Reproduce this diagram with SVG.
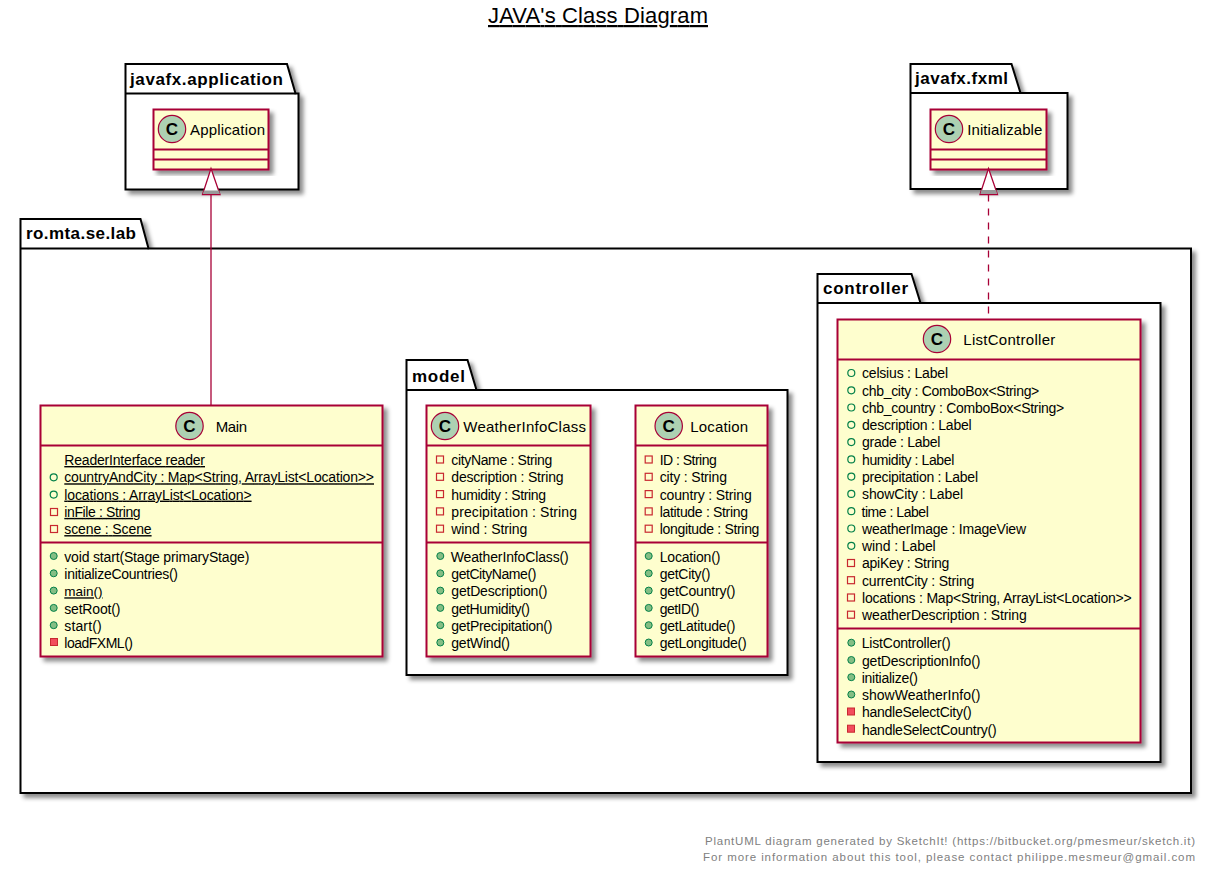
<svg xmlns="http://www.w3.org/2000/svg" width="1210" height="869" viewBox="0 0 1210 869">
<style>
text{font-family:"Liberation Sans",Arial,sans-serif;fill:#000}
.title{font-size:22px;text-decoration:underline}
.pkg{fill:#fff;stroke:#000;stroke-width:2}
.pl{font-size:17px;font-weight:bold}
.cls{fill:#FEFECE;stroke:#A80036;stroke-width:2}
.sep{stroke:#A80036;stroke-width:2;fill:none}
.spot{fill:#ADD1B2;stroke:#A80036;stroke-width:1.2}
.c{font-size:17px;font-weight:bold;text-anchor:middle}
.n{font-size:15px}
.m{font-size:14px}
.u{text-decoration:underline}
.po{fill:none;stroke:#038048;stroke-width:1.2}
.pf{fill:#84BE84;stroke:#038048;stroke-width:1}
.so{fill:none;stroke:#C82930;stroke-width:1.2}
.sf{fill:#F24D5C;stroke:#C82930;stroke-width:1}
.link{fill:none;stroke:#A80036;stroke-width:1.3}
.head{fill:#fff;stroke:#A80036;stroke-width:1.3}
.foot{font-size:11.5px;fill:#808080;text-anchor:end}
</style>
<defs>
<filter id="sh" x="-10%" y="-10%" width="120%" height="120%"><feDropShadow dx="4" dy="4" stdDeviation="2" flood-color="#000" flood-opacity="0.45"/></filter>
</defs>
<text class="title" x="488" y="23" textLength="220">JAVA's Class Diagram</text>

<g id="pkg-javafx-application">
<path class="pkg" filter="url(#sh)" d="M125.5 93.5V64H287L295.5 93.5H298.5V189.5H125.5Z"/>
<path class="pkg" d="M125.5 93.5H295.5" fill="none"/>
<text class="pl" x="130" y="85" textLength="153">javafx.application</text>
</g>
<g id="pkg-javafx-fxml">
<path class="pkg" filter="url(#sh)" d="M910.5 93V64H1011.5L1020.5 93H1067.5V189H910.5Z"/>
<path class="pkg" d="M910.5 93H1020.5" fill="none"/>
<text class="pl" x="915" y="84" textLength="93">javafx.fxml</text>
</g>
<g id="pkg-ro-mta-se-lab">
<path class="pkg" filter="url(#sh)" d="M20.5 248.5V219H140.5L148.5 248.5H1191V793H20.5Z"/>
<path class="pkg" d="M20.5 248.5H148.5" fill="none"/>
<text class="pl" x="26" y="239" textLength="110">ro.mta.se.lab</text>
</g>
<g id="pkg-model">
<path class="pkg" filter="url(#sh)" d="M406.5 390V360H467.5L476.5 390H787.5V675H406.5Z"/>
<path class="pkg" d="M406.5 390H476.5" fill="none"/>
<text class="pl" x="412" y="381.5" textLength="53">model</text>
</g>
<g id="pkg-controller">
<path class="pkg" filter="url(#sh)" d="M817.5 303V274H911.5L920.5 303H1160.5V762H817.5Z"/>
<path class="pkg" d="M817.5 303H920.5" fill="none"/>
<text class="pl" x="823" y="294" textLength="85">controller</text>
</g>

<g id="class-Application">
<rect class="cls" filter="url(#sh)" x="153.5" y="109.5" width="115" height="60"/>
<path class="sep" d="M153.5 149.5H268.5M153.5 159.5H268.5"/>
<circle class="spot" cx="172" cy="129" r="13.7"/>
<text class="c" x="172" y="135">C</text>
<text class="n" x="190" y="135" textLength="75">Application</text>
</g>
<g id="class-Initializable">
<rect class="cls" filter="url(#sh)" x="930.5" y="109.5" width="116" height="60"/>
<path class="sep" d="M930.5 149.5H1046.5M930.5 159.5H1046.5"/>
<circle class="spot" cx="949" cy="129" r="13.7"/>
<text class="c" x="949" y="135">C</text>
<text class="n" x="967.3" y="135" textLength="75">Initializable</text>
</g>

<g id="class-Main">
<rect class="cls" filter="url(#sh)" x="40.5" y="405.5" width="342" height="251"/>
<path class="sep" d="M40.5 445.5H382.5M40.5 542.5H382.5"/>
<circle class="spot" cx="189.5" cy="426" r="13.7"/>
<text class="c" x="189.5" y="432">C</text>
<text class="n" x="215.7" y="431.7" textLength="31.5">Main</text>
<text class="m u" x="64.3" y="465" textLength="140.7">ReaderInterface reader</text>
<circle class="po" cx="53.7" cy="477.3" r="3.5"/><text class="m u" x="64.3" y="482.3" textLength="309.7">countryAndCity : Map&lt;String, ArrayList&lt;Location&gt;&gt;</text>
<circle class="po" cx="53.7" cy="494.6" r="3.5"/><text class="m u" x="64.3" y="499.6" textLength="187.3">locations : ArrayList&lt;Location&gt;</text>
<rect class="so" x="50.5" y="508.5" width="7" height="7"/><text class="m u" x="64.3" y="516.9" textLength="76.3">inFile : String</text>
<rect class="so" x="50.5" y="525.5" width="7" height="7"/><text class="m u" x="64.3" y="534.1" textLength="87.3">scene : Scene</text>
<circle class="pf" cx="53.7" cy="556" r="3.5"/><text class="m" x="64.3" y="561.7" textLength="185">void start(Stage primaryStage)</text>
<circle class="pf" cx="53.7" cy="573.3" r="3.5"/><text class="m" x="64.3" y="579" textLength="113.7">initializeCountries()</text>
<circle class="pf" cx="53.7" cy="590.6" r="3.5"/><text class="u" font-size="13.5" x="64.3" y="596.3">main()</text>
<circle class="pf" cx="53.7" cy="607.9" r="3.5"/><text class="m" x="64.3" y="613.6" textLength="56">setRoot()</text>
<circle class="pf" cx="53.7" cy="625.2" r="3.5"/><text class="m" x="64.3" y="630.9" textLength="37.3">start()</text>
<rect class="sf" x="50.5" y="638.5" width="7" height="7"/><text class="m" x="64.3" y="648.1" textLength="68.7">loadFXML()</text>
</g>

<g id="class-WeatherInfoClass">
<rect class="cls" filter="url(#sh)" x="426.5" y="405.5" width="164" height="251"/>
<path class="sep" d="M426.5 445.5H590.5M426.5 542.5H590.5"/>
<circle class="spot" cx="445" cy="426" r="13.7"/>
<text class="c" x="445" y="432">C</text>
<text class="n" x="463.3" y="432" textLength="122.7">WeatherInfoClass</text>
<rect class="so" x="436.5" y="456" width="7" height="7"/><text class="m" x="451.3" y="465" textLength="101">cityName : String</text>
<rect class="so" x="436.5" y="473.3" width="7" height="7"/><text class="m" x="451.3" y="482.3" textLength="112.3">description : String</text>
<rect class="so" x="436.5" y="490.6" width="7" height="7"/><text class="m" x="451.3" y="499.6" textLength="94.7">humidity : String</text>
<rect class="so" x="436.5" y="507.9" width="7" height="7"/><text class="m" x="451.3" y="516.9" textLength="125.7">precipitation : String</text>
<rect class="so" x="436.5" y="525.2" width="7" height="7"/><text class="m" x="451.3" y="534.1" textLength="76">wind : String</text>
<circle class="pf" cx="440.3" cy="556" r="3.5"/><text class="m" x="450.7" y="561.7" textLength="118">WeatherInfoClass()</text>
<circle class="pf" cx="440.3" cy="573.3" r="3.5"/><text class="m" x="451.3" y="579" textLength="85">getCityName()</text>
<circle class="pf" cx="440.3" cy="590.6" r="3.5"/><text class="m" x="451.3" y="596.3" textLength="96">getDescription()</text>
<circle class="pf" cx="440.3" cy="607.9" r="3.5"/><text class="m" x="451.3" y="613.6" textLength="78.7">getHumidity()</text>
<circle class="pf" cx="440.3" cy="625.2" r="3.5"/><text class="m" x="451.3" y="630.9" textLength="101">getPrecipitation()</text>
<circle class="pf" cx="440.3" cy="642.5" r="3.5"/><text class="m" x="451.3" y="648.1" textLength="58.7">getWind()</text>
</g>

<g id="class-Location">
<rect class="cls" filter="url(#sh)" x="635.5" y="405.5" width="132" height="251"/>
<path class="sep" d="M635.5 445.5H767.5M635.5 542.5H767.5"/>
<circle class="spot" cx="668.7" cy="426" r="13.7"/>
<text class="c" x="668.7" y="432">C</text>
<text class="n" x="690.3" y="432" textLength="57.7">Location</text>
<rect class="so" x="645.2" y="456" width="7" height="7"/><text class="m" x="659.7" y="465" textLength="57">ID : String</text>
<rect class="so" x="645.2" y="473.3" width="7" height="7"/><text class="m" x="659.7" y="482.3" textLength="67.3">city : String</text>
<rect class="so" x="645.2" y="490.6" width="7" height="7"/><text class="m" x="659.7" y="499.6" textLength="92">country : String</text>
<rect class="so" x="645.2" y="507.9" width="7" height="7"/><text class="m" x="659.7" y="516.9" textLength="88.3">latitude : String</text>
<rect class="so" x="645.2" y="525.2" width="7" height="7"/><text class="m" x="659.7" y="534.1" textLength="99.7">longitude : String</text>
<circle class="pf" cx="648.7" cy="556" r="3.5"/><text class="m" x="659.7" y="561.7" textLength="60.7">Location()</text>
<circle class="pf" cx="648.7" cy="573.3" r="3.5"/><text class="m" x="659.7" y="579" textLength="50.7">getCity()</text>
<circle class="pf" cx="648.7" cy="590.6" r="3.5"/><text class="m" x="659.7" y="596.3" textLength="75.7">getCountry()</text>
<circle class="pf" cx="648.7" cy="607.9" r="3.5"/><text class="m" x="659.7" y="613.6" textLength="39.7">getID()</text>
<circle class="pf" cx="648.7" cy="625.2" r="3.5"/><text class="m" x="659.7" y="630.9" textLength="75.7">getLatitude()</text>
<circle class="pf" cx="648.7" cy="642.5" r="3.5"/><text class="m" x="659.7" y="648.1" textLength="87">getLongitude()</text>
</g>

<g id="class-ListController">
<rect class="cls" filter="url(#sh)" x="837.5" y="319.5" width="303" height="423"/>
<path class="sep" d="M837.5 359.5H1140.5M837.5 628.5H1140.5"/>
<circle class="spot" cx="937" cy="339" r="13.7"/>
<text class="c" x="937" y="345">C</text>
<text class="n" x="963.3" y="345.3" textLength="92">ListController</text>
<circle class="po" cx="851.3" cy="373" r="3.5"/><text class="m" x="862" y="378.3" textLength="86">celsius : Label</text>
<circle class="po" cx="851.3" cy="390.3" r="3.5"/><text class="m" x="862" y="395.6" textLength="177.3">chb_city : ComboBox&lt;String&gt;</text>
<circle class="po" cx="851.3" cy="407.5" r="3.5"/><text class="m" x="862" y="412.9" textLength="202.3">chb_country : ComboBox&lt;String&gt;</text>
<circle class="po" cx="851.3" cy="424.8" r="3.5"/><text class="m" x="862" y="430.2" textLength="109.7">description : Label</text>
<circle class="po" cx="851.3" cy="442.1" r="3.5"/><text class="m" x="862" y="447.4" textLength="78.3">grade : Label</text>
<circle class="po" cx="851.3" cy="459.4" r="3.5"/><text class="m" x="862" y="464.7" textLength="92.3">humidity : Label</text>
<circle class="po" cx="851.3" cy="476.6" r="3.5"/><text class="m" x="862" y="482" textLength="116">precipitation : Label</text>
<circle class="po" cx="851.3" cy="493.9" r="3.5"/><text class="m" x="862" y="499.3" textLength="101">showCity : Label</text>
<circle class="po" cx="851.3" cy="511.2" r="3.5"/><text class="m" x="861.5" y="516.5" textLength="67.3">time : Label</text>
<circle class="po" cx="851.3" cy="528.5" r="3.5"/><text class="m" x="862" y="533.8" textLength="164">weatherImage : ImageView</text>
<circle class="po" cx="851.3" cy="545.8" r="3.5"/><text class="m" x="862" y="551.1" textLength="73.7">wind : Label</text>
<rect class="so" x="847.5" y="559.5" width="7" height="7"/><text class="m" x="862" y="568.4" textLength="87.3">apiKey : String</text>
<rect class="so" x="847.5" y="576.7" width="7" height="7"/><text class="m" x="862" y="585.7" textLength="112.3">currentCity : String</text>
<rect class="so" x="847.5" y="594" width="7" height="7"/><text class="m" x="862" y="603" textLength="269.7">locations : Map&lt;String, ArrayList&lt;Location&gt;&gt;</text>
<rect class="so" x="847.5" y="611.2" width="7" height="7"/><text class="m" x="862" y="620.2" textLength="164.7">weatherDescription : String</text>
<circle class="pf" cx="851.3" cy="642.7" r="3.5"/><text class="m" x="861.7" y="648.3" textLength="89">ListController()</text>
<circle class="pf" cx="851.3" cy="660" r="3.5"/><text class="m" x="862" y="665.6" textLength="118.3">getDescriptionInfo()</text>
<circle class="pf" cx="851.3" cy="677.2" r="3.5"/><text class="m" x="861.7" y="682.9" textLength="56.3">initialize()</text>
<circle class="pf" cx="851.3" cy="694.5" r="3.5"/><text class="m" x="862" y="700.1" textLength="118.3">showWeatherInfo()</text>
<rect class="sf" x="847.5" y="708" width="7" height="7"/><text class="m" x="862" y="717.4" textLength="109.7">handleSelectCity()</text>
<rect class="sf" x="847.5" y="725.2" width="7" height="7"/><text class="m" x="862" y="734.6" textLength="134.7">handleSelectCountry()</text>
</g>

<g id="connectors">
<path class="link" d="M211 194.5V405"/>
<path class="head" d="M211 168.5L220 194.5H202.5Z"/>
<path d="M204 190.5H218.7L220 194H202.8Z" fill="#999"/>
<path class="link" stroke-dasharray="7 7" d="M988.5 194.5V319"/>
<path class="head" d="M988.5 168.5L997.5 194.5H980Z"/>
<path d="M981.5 190H996L997.2 194H980.3Z" fill="#999"/>
</g>

<text class="foot" x="1195" y="845" textLength="490">PlantUML diagram generated by SketchIt! (https://bitbucket.org/pmesmeur/sketch.it)</text>
<text class="foot" x="1195" y="860.5" textLength="492">For more information about this tool, please contact philippe.mesmeur@gmail.com</text>
</svg>
